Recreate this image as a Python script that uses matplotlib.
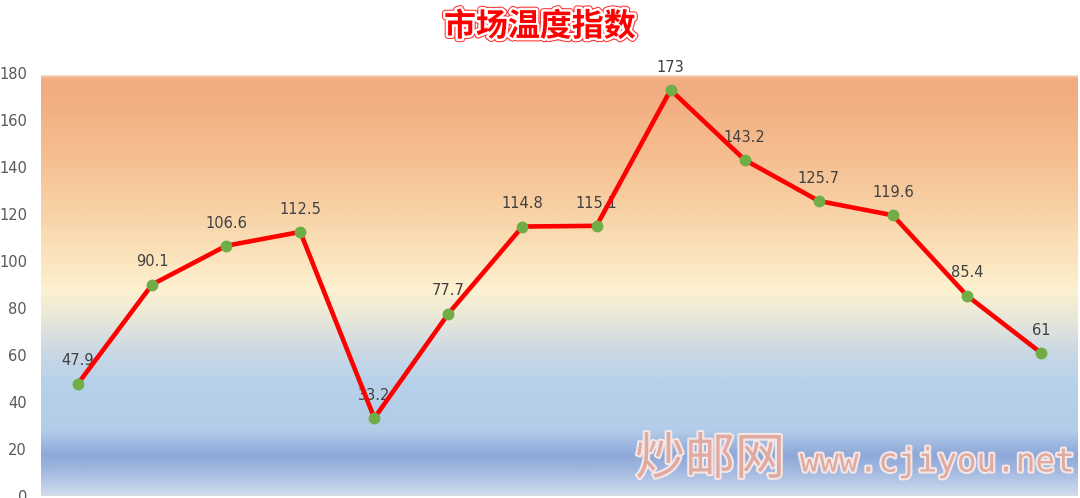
import numpy as np
import matplotlib.pyplot as plt
import matplotlib.patheffects as pe
from matplotlib.colors import LinearSegmentedColormap

plt.rcParams['font.family'] = ['Noto Sans CJK SC', 'DejaVu Sans']

values = [47.9, 90.1, 106.6, 112.5, 33.2, 77.7, 114.8, 115.1, 173, 143.2, 125.7, 119.6, 85.4, 61]
labels = ["47.9", "90.1", "106.6", "112.5", "33.2", "77.7", "114.8", "115.1", "173", "143.2", "125.7", "119.6", "85.4", "61"]
yticks = [0, 20, 40, 60, 80, 100, 120, 140, 160, 180]

# background gradient stops (value on y axis -> colour)
grad_stops = [(0, "#d0ddf0"), (10, "#a3b9e0"), (17, "#8ea8d9"), (28, "#b3cde9"),
              (48, "#b7d1ea"), (62, "#cbd9e4"), (75, "#e8e7d9"), (88, "#fdf1d0"),
              (100, "#fbe5bf"), (120, "#f8d3a7"), (145, "#f5be91"), (170, "#f2ae81"),
              (178.5, "#f1ad82"), (180, "#ffffff")]

fig = plt.figure(figsize=(10.8, 4.98), dpi=100)
ax = fig.add_axes([41 / 1080, 2 / 498, 1037 / 1080, 422.5 / 498])

n = len(values)
x = np.arange(n)
ax.set_xlim(-0.5, n - 0.5)
ax.set_ylim(0, 180)

cmap = LinearSegmentedColormap.from_list("bg", [(v / 180, c) for v, c in grad_stops])
grad = np.linspace(0, 1, 600).reshape(-1, 1)
ax.imshow(grad, cmap=cmap, aspect="auto", origin="lower",
          extent=[-0.5, n - 0.5, 0, 180], zorder=0)

for xi, v, t in zip(x, values, labels):
    ax.text(xi, v + 6.5, t, ha="center", va="bottom", fontsize=10.5,
            color="#404040", family=["DejaVu Sans"], zorder=2)

ax.plot(x, values, color="#ff0000", linewidth=3.3, zorder=3, solid_capstyle="round")
ax.plot(x, values, "o", color="#70ad47", markersize=7.5, zorder=4)

ax.set_yticks(yticks)
ax.set_yticklabels([str(v) for v in yticks], fontsize=10.5, color="#595959",
                   family=["DejaVu Sans"])
ax.tick_params(axis="y", length=0, pad=10)
ax.set_xticks([])
for s in ax.spines.values():
    s.set_visible(False)
ax.axhline(0, color="#d9d9d9", linewidth=1.5, zorder=1)

fig.text(540 / 1080, 1 - 27 / 498, "市场温度指数", ha="center", va="center",
         fontsize=23, fontweight="bold", color="#ff0000",
         path_effects=[pe.Stroke(linewidth=5, foreground="#ff3030"),
                       pe.Stroke(linewidth=3.5, foreground="white"),
                       pe.Normal()])

wm_fx = [pe.Stroke(linewidth=3, foreground="#f4e6e6"), pe.Normal()]
fig.text(710 / 1080, 1 - 460 / 498, "炒邮网", ha="center", va="center",
         fontsize=36, color="#dfaaa0", fontweight="light", path_effects=wm_fx)
fig.text(937 / 1080, 1 - 462 / 498, "www.cjiyou.net", ha="center", va="center",
         fontsize=23.5, color="#dfaaa0", family=["DejaVu Sans Mono"],
         path_effects=wm_fx)

fig.savefig("out.png", dpi=100)
